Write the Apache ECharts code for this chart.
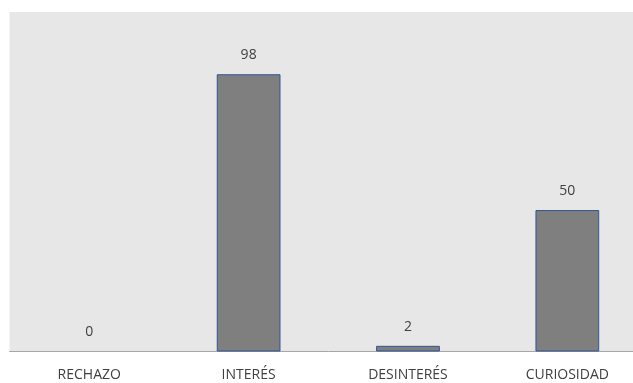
<!DOCTYPE html>
<html>
<head>
<meta charset="utf-8">
<script src="https://cdn.jsdelivr.net/npm/echarts@6/dist/echarts.min.js"></script>
<style>
  html, body { margin: 0; padding: 0; background: #fff; overflow: hidden; }
  /* the original plot runs past the right edge of the picture */
  #chart { width: 647px; height: 383px; }
</style>
</head>
<body>
<div id="chart"></div>
<script>
const categories = ['RECHAZO', 'INTERÉS', 'DESINTERÉS', 'CURIOSIDAD']
const values = [0, 98, 2, 50]

const chart = echarts.init(document.getElementById('chart'))

// zero-height bars show no outline in the original
const barData = values.map(v => ({
  value: v,
  itemStyle: v === 0 ? { borderWidth: 0 } : undefined
}))

chart.setOption({
  backgroundColor: '#ffffff',
  animation: false,
  textStyle: { fontFamily: 'Open Sans, sans-serif' },
  grid: {
    left: 9.6,
    right: 0,
    top: 12,
    bottom: 31.5,
    show: true,
    backgroundColor: '#e7e7e7',
    borderWidth: 0
  },
  xAxis: {
    type: 'category',
    data: categories,
    axisLine: { lineStyle: { color: '#a6a6a6', width: 1 } },
    axisTick: { show: false },
    axisLabel: { color: '#404040', fontSize: 14, margin: 17, interval: 0 },
    splitLine: { show: false }
  },
  yAxis: {
    type: 'value',
    min: 0,
    max: 120,
    show: false,
    splitLine: { show: false }
  },
  series: [
    {
      type: 'bar',
      data: barData,
      barWidth: '40%',
      itemStyle: {
        color: '#7f7f7f',
        borderColor: '#2f5597',
        borderWidth: 1
      },
      label: {
        show: true,
        position: 'top',
        distance: 12,
        color: '#404040',
        fontSize: 14
      }
    }
  ]
})
</script>
</body>
</html>
